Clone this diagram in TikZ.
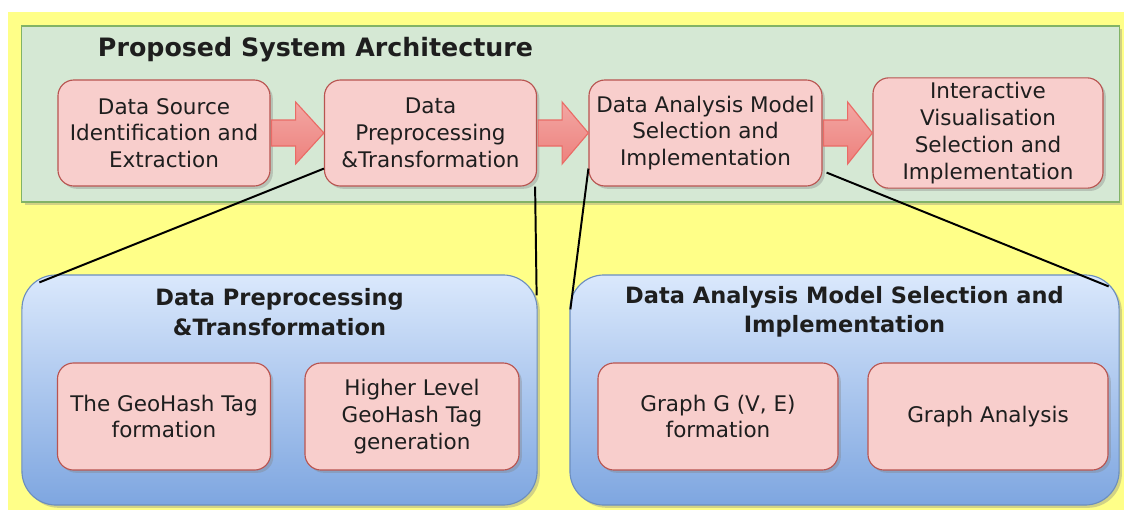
\documentclass[tikz,border=0pt]{standalone}
\usepackage{fontspec}
\setmainfont{DejaVu Sans}
\usepackage{tikz}
\usetikzlibrary{shapes,positioning,shadows,calc}
\definecolor{noteyellow}{RGB}{255,255,136}
\definecolor{framegreen}{RGB}{213,232,212}
\definecolor{framegreenline}{RGB}{130,179,102}
\definecolor{boxred}{RGB}{248,206,204}
\definecolor{boxredline}{RGB}{184,84,80}
\definecolor{panelblue}{RGB}{218,232,252}
\definecolor{panelblue2}{RGB}{126,166,224}
\definecolor{panelblueline}{RGB}{108,142,191}
\definecolor{arrowred}{RGB}{234,107,102}
\definecolor{textgray}{RGB}{30,30,30}
\tikzstyle{shade} = [drop shadow={opacity=0.35, shadow xshift=0.07cm, shadow yshift=-0.07cm}]
\tikzstyle{frame} = [rectangle, draw=framegreenline, fill=framegreen, line width=0.8pt, shade]
\tikzstyle{stage} = [rectangle, rounded corners=0.4cm, minimum width=5.3cm, minimum height=2.65cm, align=center, draw=boxredline, fill=boxred, line width=0.8pt, text=textgray, font=\fontsize{15.3}{19}\selectfont, shade]
\tikzstyle{task} = [stage, minimum height=2.675cm, drop shadow={opacity=0}]
\tikzstyle{panel} = [rectangle, rounded corners=0.85cm, minimum height=5.75cm, draw=panelblueline, top color=panelblue, bottom color=panelblue2, line width=0.8pt, shade]
\tikzstyle{paneltitle} = [align=center, text=textgray, font=\bfseries\fontsize{16}{21}\selectfont]
\tikzstyle{blockarrow} = [draw=arrowred, line width=0.8pt, top color=boxred!60!arrowred, bottom color=arrowred!85]
\tikzstyle{link} = [line width=1.4pt, black]

\begin{document}
\begin{tikzpicture}[x=0.025cm, y=-0.025cm]
    \useasboundingbox (0,0) rectangle (1129,512);
    \fill[noteyellow] (8,12) rectangle (1124,510);

    % Architecture frame
    \node[frame, minimum width=27.425cm, minimum height=4.4cm] (arch) at (570.5,114) {};
    \node[anchor=west, text=textgray, font=\bfseries\fontsize{18}{22}\selectfont] (archtitle) at (93,50) {Proposed System Architecture};

    % Pipeline stages
    \node[stage] (s1) at (164,133) {Data Source\\Identification and\\Extraction};
    \node[stage] (s2) at (430.5,133) {Data\\Preprocessing\\\&Transformation};
    \node[stage, minimum width=5.825cm] (s3) at (705.5,133) {Data Analysis Model\\Selection and\\Implementation};
    \node[stage, minimum width=5.75cm] (s4) at (988,133) {Interactive\\Visualisation\\Selection and\\Implementation};

    % Block arrows
    \foreach \a/\b in {s1/s2, s2/s3, s3/s4}
        \path[blockarrow] ($(\a.east)+(1,-13)$) -- ($(\a.east)+(25,-13)$) -- ($(\a.east)+(25,-31)$)
            -- (\b.west) -- ($(\a.east)+(25,31)$) -- ($(\a.east)+(25,13)$) -- ($(\a.east)+(1,13)$) -- cycle;

    % Detail panels
    \node[panel, minimum width=12.875cm] (p1) at (279.5,390) {};
    \node[paneltitle] (p1title) at (279.5,312) {Data Preprocessing\\\&Transformation};
    \node[task, minimum width=5.325cm] (q1) at (164,416.5) {The GeoHash Tag\\formation};
    \node[task, minimum width=5.35cm] (q2) at (412,416.5) {Higher Level\\GeoHash Tag\\generation};

    \node[panel, minimum width=13.725cm] (p2) at (844.5,390) {};
    \node[paneltitle] (p2title) at (844.5,312) {Data Analysis Model Selection and\\Implementation};
    \node[task, minimum width=6cm] (q3) at (718,416.5) {Graph G (V, E)\\formation};
    \node[task, minimum width=6cm] (q4) at (988,416.5) {Graph Analysis};

    % Zoom lines
    \draw[link] ($(s2.south west)+(0,-18)$) -- ($(p1.north west)+(18,8)$);
    \draw[link] ($(s2.south east)+(-2,0)$) -- ($(p1.north east)+(-1,21)$);
    \draw[link] ($(s3.south west)+(0,-18)$) -- ($(p2.north west)+(1,35)$);
    \draw[link] ($(s3.south east)+(4,-14)$) -- ($(p2.north east)+(-11,12)$);
\end{tikzpicture}
\end{document}
